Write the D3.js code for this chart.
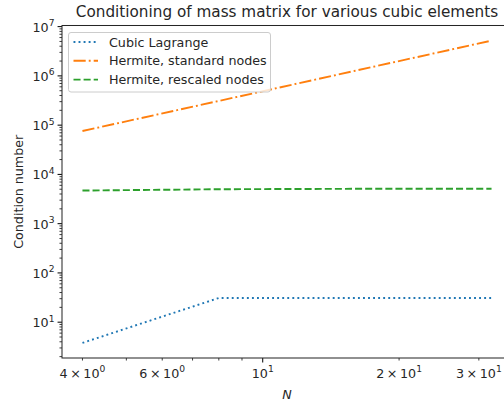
<!DOCTYPE html>
<html>
<head>
<meta charset="utf-8">
<script src="https://cdn.jsdelivr.net/npm/d3@7"></script>
<style>
  body { margin: 0; background: #fff; }
  svg { display: block; font-family: "DejaVu Sans", sans-serif; }
</style>
</head>
<body>
<div id="chart"></div>
<script>
// data
const nValues = [4, 8, 16, 32];
const lagrange = [3.8, 31, 31, 31];
const hermiteStd = [7.6e4, 3.1e5, 1.27e6, 5.2e6];
const hermiteRescaled = [4.7e3, 5.0e3, 5.1e3, 5.1e3];
const seriesNames = ["Cubic Lagrange", "Hermite, standard nodes", "Hermite, rescaled nodes"];
const seriesColors = ["#1f77b4", "#ff7f0e", "#2ca02c"];
const xTickValues = [4, 6, 10, 20, 30];
const xTickMant = ["4", "6", "", "2", "3"];
const xTickExp = ["0", "0", "1", "1", "1"];

var width = 504;
var height = 401;
var s = 1.27; // px per pt
var lw = 1.5 * s;
var fs = 10 * s;
var dashes = [
    [1 * lw, 1.65 * lw],
    [6.4 * lw, 1.6 * lw, 1 * lw, 1.6 * lw],
    [3.7 * lw, 1.6 * lw]
];

var margin = {left: 62, right: -8, top: 25.5, bottom: 43};
var x0 = margin.left, x1 = width - margin.right;
var y0 = margin.top, y1 = height - margin.bottom;

function padded(lo, hi) {
    var a = Math.log10(lo), b = Math.log10(hi), m = (b - a) * 0.05;
    return [Math.pow(10, a - m), Math.pow(10, b + m)];
}

var allY = lagrange.concat(hermiteStd, hermiteRescaled);
var x = d3.scaleLog().domain(padded(d3.min(nValues), d3.max(nValues))).range([x0, x1]);
var y = d3.scaleLog().domain(padded(d3.min(allY), d3.max(allY))).range([y1, y0]);

var svg = d3.select("#chart").append("svg")
    .attr("width", width)
    .attr("height", height);

svg.append("defs").append("clipPath").attr("id", "clip")
    .append("rect").attr("x", x0).attr("y", y0).attr("width", x1 - x0).attr("height", y1 - y0);

// lines
var series = [lagrange, hermiteStd, hermiteRescaled];
var line = d3.line().x((d, i) => x(nValues[i])).y(d => y(d));
svg.append("g").attr("clip-path", "url(#clip)")
    .selectAll("path")
    .data(series)
    .enter().append("path")
    .attr("d", d => line(d))
    .attr("fill", "none")
    .attr("stroke", (d, i) => seriesColors[i])
    .attr("stroke-width", lw)
    .attr("stroke-dasharray", (d, i) => dashes[i].join(","));

// y ticks
var ydom = y.domain();
var yMajor = [], yMinor = [];
for (var e = Math.floor(Math.log10(ydom[0])); e <= Math.ceil(Math.log10(ydom[1])); e++) {
    for (var k = 1; k <= 9; k++) {
        var v = k * Math.pow(10, e);
        if (v < ydom[0] || v > ydom[1] * 1.0001) continue;
        if (k === 1) yMajor.push(v); else yMinor.push(v);
    }
}
var axisColor = "#000";
var yt = svg.append("g");
yt.selectAll("line.minor").data(yMinor).enter().append("line")
    .attr("x1", x0).attr("x2", x0 - 2 * s)
    .attr("y1", d => y(d)).attr("y2", d => y(d))
    .attr("stroke", axisColor).attr("stroke-width", 0.6 * s);
yt.selectAll("line.major").data(yMajor).enter().append("line")
    .attr("x1", x0).attr("x2", x0 - 3.5 * s)
    .attr("y1", d => y(d)).attr("y2", d => y(d))
    .attr("stroke", axisColor).attr("stroke-width", 0.8 * s);
var ylab = yt.selectAll("text").data(yMajor).enter().append("text")
    .attr("x", 54.5)
    .attr("y", d => y(d) + 5)
    .attr("text-anchor", "end")
    .attr("font-size", fs)
    .attr("fill", "#262626");
ylab.append("tspan").text("10");
ylab.append("tspan").attr("dy", -5.5).attr("font-size", fs * 0.72)
    .text(d => Math.round(Math.log10(d)));

// x ticks
var xdom = x.domain();
var xMinor = [];
for (var e = 0; e <= 1; e++) {
    for (var k = 2; k <= 9; k++) {
        var v = k * Math.pow(10, e);
        if (v >= xdom[0] && v <= xdom[1] && xTickValues.indexOf(v) < 0) xMinor.push(v);
    }
}
var xt = svg.append("g");
xt.selectAll("line.minor").data(xMinor).enter().append("line")
    .attr("y1", y1).attr("y2", y1 + 2 * s)
    .attr("x1", d => x(d)).attr("x2", d => x(d))
    .attr("stroke", axisColor).attr("stroke-width", 0.6 * s);
xt.selectAll("line.tk").data(xTickValues).enter().append("line")
    .attr("y1", y1).attr("y2", d => y1 + (d === 10 ? 3.5 : 2) * s)
    .attr("x1", d => x(d)).attr("x2", d => x(d))
    .attr("stroke", axisColor).attr("stroke-width", d => (d === 10 ? 0.8 : 0.6) * s);
var xlab = xt.selectAll("text").data(xTickValues).enter().append("text")
    .attr("x", d => x(d))
    .attr("y", 377.5)
    .attr("text-anchor", "middle")
    .attr("font-size", fs)
    .attr("fill", "#262626");
xlab.append("tspan").text((d, i) => xTickMant[i] ? xTickMant[i] + "\u2009\u00d7\u200910" : "10");
xlab.append("tspan").attr("dy", -5.5).attr("font-size", fs * 0.72).text((d, i) => xTickExp[i]);

// spines
svg.append("rect")
    .attr("x", x0).attr("y", y0)
    .attr("width", x1 - x0).attr("height", y1 - y0)
    .attr("fill", "none")
    .attr("stroke", "#262626")
    .attr("stroke-width", 0.8 * s);

// title & labels
svg.append("text")
    .attr("x", (x0 + x1) / 2).attr("y", 17)
    .attr("text-anchor", "middle")
    .attr("font-size", 12 * s)
    .attr("fill", "#262626")
    .text("Conditioning of mass matrix for various cubic elements");

svg.append("text")
    .attr("transform", "translate(22.5," + ((y0 + y1) / 2) + ") rotate(-90)")
    .attr("text-anchor", "middle")
    .attr("font-size", fs)
    .attr("fill", "#262626")
    .text("Condition number");

svg.append("text")
    .attr("x", (x0 + x1) / 2).attr("y", 398.5)
    .attr("text-anchor", "middle")
    .attr("font-size", fs)
    .attr("font-style", "italic")
    .attr("fill", "#262626")
    .text("N");

// legend
var lg = svg.append("g").attr("transform", "translate(68.5,32.5)");
lg.append("rect")
    .attr("width", 202).attr("height", 59.5)
    .attr("rx", 2.5)
    .attr("fill", "#fff").attr("fill-opacity", 0.8)
    .attr("stroke", "#cccccc").attr("stroke-width", 1);
var items = lg.selectAll("g.item").data(seriesNames).enter().append("g")
    .attr("transform", (d, i) => "translate(0," + (9.5 + i * 18.8) + ")");
items.append("line")
    .attr("x1", 5).attr("x2", 29.5)
    .attr("stroke", (d, i) => seriesColors[i])
    .attr("stroke-width", lw)
    .attr("stroke-dasharray", (d, i) => dashes[i].join(","));
items.append("text")
    .attr("x", 40.5).attr("y", 4.5)
    .attr("font-size", fs)
    .attr("fill", "#262626")
    .text(d => d);
</script>
</body>
</html>
